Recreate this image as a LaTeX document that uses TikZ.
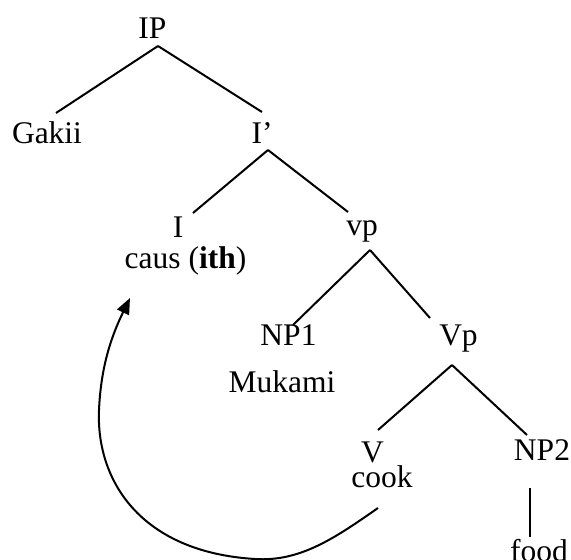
\documentclass[tikz,border=0pt]{standalone}
\usepackage{fontspec}
\setmainfont{Liberation Serif}
\usetikzlibrary{arrows.meta}
\begin{document}
\begin{tikzpicture}[x=1pt,y=-1pt,
  lbl/.style={anchor=base,inner sep=0pt,font=\fontsize{31.5}{36}\selectfont},
  branch/.style={line width=2pt},
  move/.style={line width=2pt,-{Triangle[length=16pt,width=13pt]}}]
\useasboundingbox (0,0) rectangle (571,560);
% labels of the tree
\node[lbl] (ip)    at (152.5,38)  {IP};
\node[lbl] (gakii) at (47,143)    {Gakii};
\node[lbl] (ibar)  at (262,143)   {I’};
\node[lbl] (i)     at (178,237)   {I};
\node[lbl] (caus)  at (185.5,268) {caus (\textbf{ith})};
\node[lbl] (vp)    at (362,235)   {vp};
\node[lbl] (np1)   at (288.5,345) {NP1};
\node[lbl] (mukami) at (282,392)  {Mukami};
\node[lbl] (Vp)    at (458.5,345) {Vp};
\node[lbl] (v)     at (372.5,462) {V};
\node[lbl] (cook)  at (382,487)   {cook};
\node[lbl] (np2)   at (542,460)   {NP2};
\node[lbl] (food)  at (539,561)   {food};
% branching points just under each mother label
\coordinate (ipb) at (158,46);
\coordinate (ibarb) at (268,150);
\coordinate (vpb) at (370,250);
\coordinate (Vpb) at (452,365);
% branches
\draw[branch] (ipb) -- (56,113) coordinate (gakiit);
\draw[branch] (ipb) -- (262,112) coordinate (ibart);
\draw[branch] (ibarb) -- (193,213) coordinate (it);
\draw[branch] (ibarb) -- (348,212) coordinate (vpt);
\draw[branch] (vpb) -- (293,325) coordinate (np1t);
\draw[branch] (vpb) -- (430,318) coordinate (Vpt);
\draw[branch] (Vpb) -- (378,430) coordinate (vt);
\draw[branch] (Vpb) -- (527,435) coordinate (np2t);
\coordinate (np2b) at (530,488);
\coordinate (foodt) at (530,537);
\draw[branch] (np2b) -- (foodt);
% head movement of the verb up to I
\coordinate (cookb) at (378,508);
\coordinate (causb) at (130,298);
\draw[move] (cookb) .. controls (335,538) and (300,562) .. (255,559)
  .. controls (140,552) and (96,480) .. (99,410)
  .. controls (101,365) and (112,335) .. (causb);
\end{tikzpicture}
\end{document}
